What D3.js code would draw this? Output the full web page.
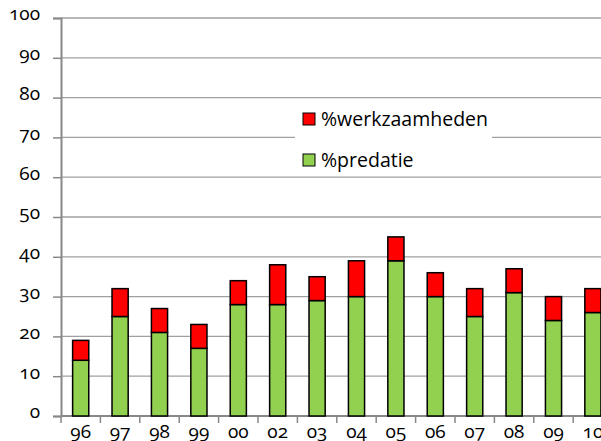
<!DOCTYPE html>
<html><head><meta charset="utf-8">
<script src="https://cdn.jsdelivr.net/npm/d3@7"></script>
<style>
body{margin:0;background:#fff;}
svg{display:block;font-family:"Open Sans","Noto Sans",sans-serif;}
</style></head>
<body><svg id="c" width="601" height="441"></svg>
<script>
const categories = ["96","97","98","99","00","02","03","04","05","06","07","08","09","10"];
const predatie =     [14,25,21,17,28,28,29,30,39,30,25,31,24,26];
const werkzaamheden = [5, 7, 6, 6, 6,10, 6, 9, 6, 6, 7, 6, 6, 6];
const yTicks = [0,10,20,30,40,50,60,70,80,90,100];
const seriesNames = ["%werkzaamheden","%predatie"];
const colors = {"%predatie":"#92d050","%werkzaamheden":"#ff0000"};

(function(){
const svg = d3.select("#c");
const mLeft = 61, mTop = 18, mBottom = 416, catW = 39.4;
const x = d3.scaleBand().domain(categories).range([mLeft, mLeft + catW*categories.length]).padding(0);
const y = d3.scaleLinear().domain([0,100]).range([mBottom, mTop]);
const numStyle = sel => sel.style("font-family","'Open Sans', sans-serif")
  .style("font-variant-numeric","oldstyle-nums").style("font-feature-settings","'onum' 1");

// gridlines
svg.append("g").selectAll("line").data(yTicks.filter(d=>d>0)).join("line")
  .attr("x1", mLeft).attr("x2", 601).attr("y1", d=>y(d)).attr("y2", d=>y(d))
  .attr("stroke","#a0a0a0").attr("stroke-width",1.3);

// y axis
const yAxis = d3.axisLeft(y).tickValues(yTicks).tickSize(8).tickPadding(13).tickFormat(d=>String(d));
const gy = svg.append("g").attr("transform",`translate(${mLeft},0)`).call(yAxis)
  .attr("font-family",null).attr("font-size",null);
gy.select(".domain").attr("stroke","#888").attr("stroke-width",2);
gy.selectAll(".tick line").attr("stroke","#888").attr("stroke-width",1.5);
gy.selectAll(".tick text").attr("fill","#000").attr("dy","0.1em").style("font-size","19px").call(numStyle);

// x axis
const gx = svg.append("g").attr("transform",`translate(0,${mBottom})`);
gx.append("line").attr("x1",mLeft).attr("x2",601).attr("stroke","#888").attr("stroke-width",2);
const bounds = d3.range(categories.length+1).map(i=>mLeft + i*x.bandwidth());
gx.selectAll(".xt").data(bounds).join("line").attr("class","xt")
  .attr("x1",d=>d).attr("x2",d=>d).attr("y1",0).attr("y2",7)
  .attr("stroke","#888").attr("stroke-width",1.5);
gx.selectAll(".xl").data(categories).join("text")
  .attr("x",d=>x(d)+x.bandwidth()/2).attr("y",22)
  .attr("text-anchor","middle").style("font-size","19px").attr("fill","#000").text(d=>d).call(numStyle);

// stacked bars
const rows = categories.map((c,i)=>({cat:c,"%predatie":predatie[i],"%werkzaamheden":werkzaamheden[i]}));
const stack = d3.stack().keys(["%predatie","%werkzaamheden"])(rows);
const bw = x.bandwidth()*0.41;
svg.append("g").selectAll("g").data(stack).join("g")
  .attr("fill",d=>colors[d.key])
  .selectAll("rect").data(d=>d).join("rect")
  .attr("x",d=>x(d.data.cat)+(x.bandwidth()-bw)/2)
  .attr("width",bw)
  .attr("y",d=>y(d[1])).attr("height",d=>y(d[0])-y(d[1]))
  .attr("stroke","#000").attr("stroke-width",1.5);

// legend
const lg = svg.append("g");
lg.append("rect").attr("x",295).attr("y",101).attr("width",197).attr("height",73).attr("fill","#fff");
const items = lg.selectAll(".li").data(seriesNames).join("g").attr("class","li")
  .attr("transform",(d,i)=>`translate(303,${113+i*41})`);
items.append("rect").attr("width",12).attr("height",12).attr("fill",d=>colors[d]).attr("stroke","#000").attr("stroke-width",1);
items.append("text").attr("x",18).attr("y",6).attr("dy","0.36em").style("font-size","19.5px").attr("fill","#000").text(d=>d);
})();
</script></body></html>
